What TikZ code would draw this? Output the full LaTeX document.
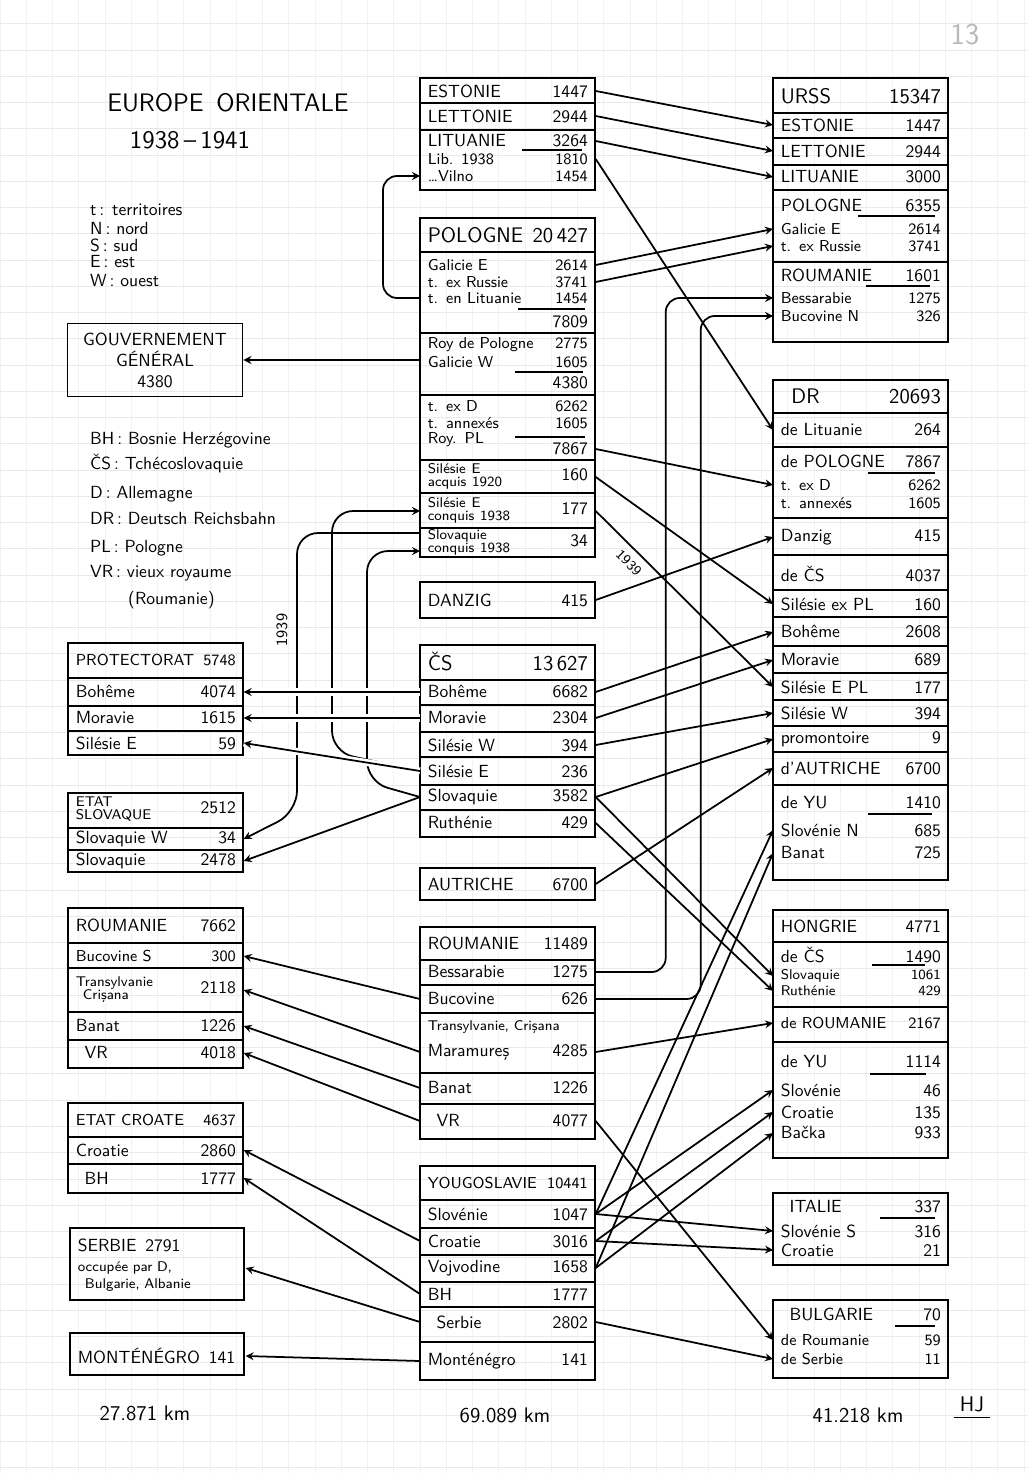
\documentclass[tikz,border=0pt]{standalone}
\usepackage{fontspec}
\usetikzlibrary{calc}

\tikzset{
  row/.style={anchor=west, text width=32mm, inner xsep=1.5mm, inner ysep=0.5pt, font=\sffamily},
  hd/.style={row, font=\sffamily},
  box/.style={draw, line width=1.1pt},
  sep/.style={line width=0.8pt},
  tot/.style={line width=0.7pt},
  arr/.style={->, line width=1pt},
  gap/.style={preaction={draw=white, line width=4pt, -}},
  legende/.style={anchor=west, font=\sffamily},
}
\newcommand{\twol}[2]{{\footnotesize\renewcommand{\arraystretch}{0.75}\begin{tabular}{@{}l@{}}#1\\#2\end{tabular}}}

\begin{document}
\begin{tikzpicture}[x=0.2mm,y=-0.2mm,>=stealth]
\useasboundingbox[fill=white] (0,0) rectangle (1028,1473);
% papier quadrille
\foreach \k in {-16,...,30} \draw[gray!10, line width=0.3pt] (420+26.25*\k,0) -- (420+26.25*\k,1473);
\foreach \k in {-26,...,30} \draw[gray!17, line width=0.3pt] (0,680+26.25*\k) -- (1028,680+26.25*\k);

% titre et legendes
\node[font=\sffamily\Large] (titre) at (228,103) {\addfontfeature{LetterSpace=22}EUROPE\enspace ORIENTALE};
\node[font=\sffamily\Large] (annees) at (190,140) {1938\,--\,1941};
\node[font=\sffamily\LARGE, text=gray!55] (page) at (965,35) {13};
\node[legende] (leg-t) at (84,210) {t\,: territoires};
\node[legende] (leg-n) at (84,228) {N\,: nord};
\node[legende] (leg-s) at (84,245) {S\,: sud};
\node[legende] (leg-e) at (84,262) {E\,: est};
\node[legende] (leg-w) at (84,280) {W\,: ouest};
\node[legende] (leg-bh) at (84,440) {BH\,: Bosnie Herzégovine};
\node[legende] (leg-cs) at (84,464) {ČS\,: Tchécoslovaquie};
\node[legende] (leg-d) at (84,494) {D\,: Allemagne};
\node[legende] (leg-dr) at (84,518) {DR\,: Deutsch Reichsbahn};
\node[legende] (leg-pl) at (84,548) {PL\,: Pologne};
\node[legende] (leg-vr) at (84,573) {VR\,: vieux royaume};
\node[legende] (leg-ro) at (122,600) {(Roumanie)};

% colonne du milieu : etats de 1938
\draw[box] (420,78) rectangle (595,190);
\foreach \y in {103,130} \draw[sep] (420,\y) -- (595,\y);
\node[hd] (ba-est) at (420,91) {ESTONIE\hfill 1447};
\node[hd] (ba-let) at (420,116) {LETTONIE\hfill 2944};
\node[hd] (ba-lit) at (420,141) {LITUANIE\hfill 3264};
\draw[tot] (522,150) -- (582,150);
\node[row, font=\sffamily\small] (ba-lib) at (420,159) {Lib. 1938\hfill 1810};
\node[row, font=\sffamily\small] (ba-vil) at (420,176) {\dots Vilno\hfill 1454};

\draw[box] (420,218) rectangle (595,557);
\foreach \y in {252,333,395,460,493,528} \draw[sep] (420,\y) -- (595,\y);
\node[hd, font=\sffamily\large] (pl-hd) at (420,235) {POLOGNE\hfill 20\,427};
\node[row, font=\sffamily\small] (pl-gal) at (420,265) {Galicie E\hfill 2614};
\node[row, font=\sffamily\small] (pl-rus) at (420,282) {t. ex Russie\hfill 3741};
\node[row, font=\sffamily\small] (pl-lit) at (420,298) {t. en Lituanie\hfill 1454};
\draw[tot] (518,309) -- (585,309);
\node[row] (pl-s1) at (420,322) {\hfill 7809};
\node[row, font=\sffamily\small] (pl-roy) at (420,345) {Roy de Pologne\hfill 2775};
\node[row, font=\sffamily\small] (pl-gaw) at (420,362) {Galicie W\hfill 1605};
\draw[tot] (515,372) -- (583,372);
\node[row] (pl-s2) at (420,383) {\hfill 4380};
\node[row, font=\sffamily\small] (pl-exd) at (420,406) {t. ex D\hfill 6262};
\node[row, font=\sffamily\small] (pl-ann) at (420,423) {t. annexés\hfill 1605};
\node[row, font=\sffamily\small] (pl-rpl) at (420,440) {Roy. PL};
\draw[tot] (515,437) -- (585,437);
\node[row] (pl-s3) at (420,449) {\hfill 7867};
\node[row] (pl-sia) at (420,477) {\twol{Silésie E}{acquis 1920}\hfill 160};
\node[row] (pl-sic) at (420,511) {\twol{Silésie E}{conquis 1938}\hfill 177};
\node[row] (pl-slq) at (420,543) {\twol{Slovaquie}{conquis 1938}\hfill 34};

\draw[box] (420,582) rectangle (595,618);
\node[hd] (da) at (420,600) {DANZIG\hfill 415};

\draw[box] (420,645) rectangle (595,837);
\foreach \y in {680,705,732,757,785,810} \draw[sep] (420,\y) -- (595,\y);
\node[hd, font=\sffamily\large] (cs-hd) at (420,662) {ČS\hfill 13\,627};
\node[row] (cs-boh) at (420,692) {Bohême\hfill 6682};
\node[row] (cs-mor) at (420,718) {Moravie\hfill 2304};
\node[row] (cs-siw) at (420,745) {Silésie W\hfill 394};
\node[row] (cs-sie) at (420,771) {Silésie E\hfill 236};
\node[row] (cs-slq) at (420,797) {Slovaquie\hfill 3582};
\node[row] (cs-rut) at (420,823) {Ruthénie\hfill 429};

\draw[box] (420,868) rectangle (595,900);
\node[hd] (au) at (420,884) {AUTRICHE\hfill 6700};

\draw[box] (420,927) rectangle (595,1139);
\foreach \y in {960,985,1013,1073,1104} \draw[sep] (420,\y) -- (595,\y);
\node[hd] (ro-hd) at (420,943) {ROUMANIE\hfill 11489};
\node[row] (ro-bes) at (420,972) {Bessarabie\hfill 1275};
\node[row] (ro-buc) at (420,999) {Bucovine\hfill 626};
\node[row, font=\sffamily\footnotesize] (ro-tra) at (420,1027) {Transylvanie, Crişana};
\node[row] (ro-mar) at (420,1052) {Maramureş\hfill 4285};
\node[row] (ro-ban) at (420,1088) {Banat\hfill 1226};
\node[row] (ro-vr) at (420,1121) {\enspace VR\hfill 4077};

\draw[box] (420,1166) rectangle (595,1380);
\foreach \y in {1200,1228,1255,1282,1307,1342} \draw[sep] (420,\y) -- (595,\y);
\node[hd, font=\sffamily\small] (yu-hd) at (420,1183) {YOUGOSLAVIE\hfill 10441};
\node[row] (yu-slo) at (420,1214) {Slovénie\hfill 1047};
\node[row] (yu-cro) at (420,1241) {Croatie\hfill 3016};
\node[row] (yu-voj) at (420,1268) {Vojvodine\hfill 1658};
\node[row] (yu-bh) at (420,1294) {BH\hfill 1777};
\node[row] (yu-ser) at (420,1322) {\enspace Serbie\hfill 2802};
\node[row] (yu-mon) at (420,1361) {Monténégro\hfill 141};

% colonne de droite : 1941
\draw[box] (773,78) rectangle (948,342);
\foreach \y in {113,138,165,190,262} \draw[sep] (773,\y) -- (948,\y);
\node[hd, font=\sffamily\large] (su-hd) at (773,96) {URSS\hfill 15347};
\node[row] (su-est) at (773,125) {ESTONIE\hfill 1447};
\node[row] (su-let) at (773,151) {LETTONIE\hfill 2944};
\node[row] (su-lit) at (773,177) {LITUANIE\hfill 3000};
\node[row] (su-pl) at (773,205) {POLOGNE\hfill 6355};
\draw[tot] (858,216) -- (935,216);
\node[row, font=\sffamily\small] (su-gal) at (773,229) {Galicie E\hfill 2614};
\node[row, font=\sffamily\small] (su-rus) at (773,246) {t. ex Russie\hfill 3741};
\node[row] (su-ro) at (773,275) {ROUMANIE\hfill 1601};
\draw[tot] (866,286) -- (930,286);
\node[row, font=\sffamily\small] (su-bes) at (773,298) {Bessarabie\hfill 1275};
\node[row, font=\sffamily\small] (su-buc) at (773,316) {Bucovine N\hfill 326};

\draw[box] (773,380) rectangle (948,880);
\foreach \y in {413,447,518,555,590,617,646,673,700,726,752,785} \draw[sep] (773,\y) -- (948,\y);
\node[hd, font=\sffamily\large] (dr-hd) at (773,396) {\enspace DR\hfill 20693};
\node[row] (dr-lit) at (773,430) {de Lituanie\hfill 264};
\node[row] (dr-pl) at (773,461) {de POLOGNE\hfill 7867};
\draw[tot] (868,473) -- (935,473);
\node[row, font=\sffamily\small] (dr-exd) at (773,485) {t. ex D\hfill 6262};
\node[row, font=\sffamily\small] (dr-ann) at (773,503) {t. annexés\hfill 1605};
\node[row] (dr-da) at (773,537) {Danzig\hfill 415};
\node[row] (dr-cs) at (773,574) {de ČS\hfill 4037};
\node[row] (dr-sip) at (773,604) {Silésie ex PL\hfill 160};
\node[row] (dr-boh) at (773,632) {Bohême\hfill 2608};
\node[row] (dr-mor) at (773,660) {Moravie\hfill 689};
\node[row] (dr-sie) at (773,687) {Silésie E PL\hfill 177};
\node[row] (dr-siw) at (773,713) {Silésie W\hfill 394};
\node[row] (dr-pro) at (773,739) {promontoire\hfill 9};
\node[row] (dr-au) at (773,768) {d'AUTRICHE\hfill 6700};
\node[row] (dr-yu) at (773,803) {de YU\hfill 1410};
\draw[tot] (868,814) -- (932,814);
\node[row] (dr-sln) at (773,830) {Slovénie N\hfill 685};
\node[row] (dr-ban) at (773,853) {Banat\hfill 725};

\draw[box] (773,910) rectangle (948,1158);
\foreach \y in {942,1007,1042} \draw[sep] (773,\y) -- (948,\y);
\node[hd] (hu-hd) at (773,926) {HONGRIE\hfill 4771};
\node[row] (hu-cs) at (773,955) {de ČS\hfill 1490};
\draw[tot] (872,965) -- (925,965);
\node[row, font=\sffamily\footnotesize] (hu-slq) at (773,976) {Slovaquie\hfill 1061};
\node[row, font=\sffamily\footnotesize] (hu-rut) at (773,991) {Ruthénie\hfill 429};
\node[row, font=\sffamily\small] (hu-ro) at (773,1023) {de ROUMANIE\hfill 2167};
\node[row] (hu-yu) at (773,1062) {de YU\hfill 1114};
\draw[tot] (870,1074) -- (926,1074);
\node[row] (hu-slo) at (773,1090) {Slovénie\hfill 46};
\node[row] (hu-cro) at (773,1112) {Croatie\hfill 135};
\node[row] (hu-bac) at (773,1133) {Bačka\hfill 933};

\draw[box] (773,1193) rectangle (948,1265);
\node[hd] (it-hd) at (773,1207) {\enspace ITALIE\hfill 337};
\draw[tot] (880,1218) -- (935,1218);
\node[row] (it-slo) at (773,1231) {Slovénie S\hfill 316};
\node[row] (it-cro) at (773,1250) {Croatie\hfill 21};

\draw[box] (773,1300) rectangle (948,1378);
\node[hd] (bg-hd) at (773,1314) {\enspace BULGARIE\hfill 70};
\draw[tot] (895,1326) -- (935,1326);
\node[row, font=\sffamily\small] (bg-ro) at (773,1340) {de Roumanie\hfill 59};
\node[row, font=\sffamily\small] (bg-ser) at (773,1359) {de Serbie\hfill 11};

% colonne de gauche : 1941
\node[box, font=\sffamily, minimum width=35mm, minimum height=14.6mm, align=center] (gg) at (155,360) {GOUVERNEMENT\\GÉNÉRAL\\4380};

\draw[box] (68,643) rectangle (243,755);
\foreach \y in {678,706,731} \draw[sep] (68,\y) -- (243,\y);
\node[hd, font=\sffamily\small] (pr-hd) at (68,660) {PROTECTORAT\hfill 5748};
\node[row] (pr-boh) at (68,692) {Bohême\hfill 4074};
\node[row] (pr-mor) at (68,718) {Moravie\hfill 1615};
\node[row] (pr-sie) at (68,743) {Silésie E\hfill 59};

\draw[box] (68,793) rectangle (243,872);
\foreach \y in {828,850} \draw[sep] (68,\y) -- (243,\y);
\node[row] (es-hd) at (68,810) {\twol{ETAT}{SLOVAQUE}\hfill 2512};
\node[row] (es-slw) at (68,839) {Slovaquie W\hfill 34};
\node[row] (es-slq) at (68,861) {Slovaquie\hfill 2478};

\draw[box] (68,908) rectangle (243,1068);
\foreach \y in {943,968,1012,1040} \draw[sep] (68,\y) -- (243,\y);
\node[hd] (rl-hd) at (68,925) {ROUMANIE\hfill 7662};
\node[row, font=\sffamily\small] (rl-buc) at (68,956) {Bucovine S\hfill 300};
\node[row] (rl-tra) at (68,990) {\twol{Transylvanie}{\enspace Crişana}\hfill 2118};
\node[row] (rl-ban) at (68,1026) {Banat\hfill 1226};
\node[row] (rl-vr) at (68,1053) {\enspace VR\hfill 4018};

\draw[box] (68,1103) rectangle (243,1193);
\foreach \y in {1137,1164} \draw[sep] (68,\y) -- (243,\y);
\node[row, font=\sffamily\small] (ec-hd) at (68,1120) {ETAT CROATE\hfill 4637};
\node[row] (ec-cro) at (68,1150) {Croatie\hfill 2860};
\node[row] (ec-bh) at (68,1178) {\enspace BH\hfill 1777};

\draw[box] (70,1228) rectangle (244,1300);
\node[hd] (sb-hd) at (70,1245) {SERBIE\enspace 2791};
\node[row, font=\sffamily\footnotesize] (sb-occ) at (70,1268) {occupée par D,};
\node[row, font=\sffamily\footnotesize] (sb-bul) at (70,1285) {\enspace Bulgarie, Albanie};

\draw[box] (70,1333) rectangle (244,1375);
\node[row] (mn) at (70,1356) {MONTÉNÉGRO\enspace 141};

% totaux
\node[font=\sffamily\large] (km-g) at (145,1413) {27.871 km};
\node[font=\sffamily\large] (km-m) at (505,1415) {69.089 km};
\node[font=\sffamily\large] (km-d) at (858,1415) {41.218 km};
\node[font=\sffamily\large] (hj) at (972,1404) {HJ};
\draw[line width=0.8pt] (hj.south west) -- (hj.south east);

% transferts vers la droite
\draw[arr] (ba-est.east) -- (su-est.west);
\draw[arr] (ba-let.east) -- (su-let.west);
\draw[arr] (ba-lit.east) -- (su-lit.west);
\draw[arr] (ba-lib.east) -- (dr-lit.west);
\draw[arr] (pl-gal.east) -- (su-gal.west);
\draw[arr] (pl-rus.east) -- (su-rus.west);
\draw[arr] (pl-s3.east) -- (dr-exd.west);
\draw[arr] (pl-sia.east) -- (dr-sip.west);
\draw[arr] (pl-sic.east) -- node[pos=0.24, sloped, below=1pt, font=\sffamily\footnotesize] (an-pl) {1939} (dr-sie.west);
\draw[arr] (da.east) -- (dr-da.west);
\draw[arr] (cs-boh.east) -- (dr-boh.west);
\draw[arr] (cs-mor.east) -- (dr-mor.west);
\draw[arr] (cs-siw.east) -- (dr-siw.west);
\draw[arr] (cs-slq.east) -- (dr-pro.west);
\draw[arr] (cs-slq.east) -- (hu-slq.west);
\draw[arr] (cs-rut.east) -- (hu-rut.west);
\draw[arr] (au.east) -- (dr-au.west);
\draw[arr, rounded corners=8] (ro-bes.east) -- ++(70,0) |- (su-bes.west);
\draw[arr, rounded corners=8] (ro-buc.east) -- ++(105,0) |- (su-buc.west);
\draw[arr] (ro-mar.east) -- (hu-ro.west);
\draw[arr] (ro-vr.east) -- (bg-ro.west);
\draw[arr] (yu-slo.east) -- (dr-sln.west);
\draw[arr] (yu-voj.east) -- (dr-ban.west);
\draw[arr] (yu-slo.east) -- (hu-slo.west);
\draw[arr] (yu-cro.east) -- (hu-cro.west);
\draw[arr] (yu-voj.east) -- (hu-bac.west);
\draw[arr] (yu-slo.east) -- (it-slo.west);
\draw[arr] (yu-cro.east) -- (it-cro.west);
\draw[arr] (yu-ser.east) -- (bg-ser.west);

% transferts vers la gauche
\draw[arr, rounded corners=8] (pl-lit.west) -- ++(-37,0) |- (ba-vil.west);
\draw[arr] (pl-roy.west |- gg.east) -- (gg.east);
\draw[arr, rounded corners=12] ($(pl-slq.west)+(0,-10)$) -| (297,812) -- (es-slw.east);
\node[rotate=90, font=\sffamily\small] (an-cs) at (282,630) {1939};
\draw[arr, rounded corners=12] (cs-sie.west) -- (332,752) |- (pl-sic.west);
\draw[arr, rounded corners=12] (cs-slq.west) -- (367,782) |- ($(pl-slq.west)+(0,8)$);
\draw[arr, gap] (cs-boh.west) -- (pr-boh.east);
\draw[arr, gap] (cs-mor.west) -- (pr-mor.east);
\draw[arr, gap] (cs-sie.west) -- (pr-sie.east);
\draw[arr] (cs-slq.west) -- (es-slq.east);
\draw[arr] (ro-buc.west) -- (rl-buc.east);
\draw[arr] (ro-mar.west) -- (rl-tra.east);
\draw[arr] (ro-ban.west) -- (rl-ban.east);
\draw[arr] (ro-vr.west) -- (rl-vr.east);
\draw[arr] (yu-cro.west) -- (ec-cro.east);
\draw[arr] (yu-bh.west) -- (ec-bh.east);
\draw[arr] (yu-ser.west) -- (sb-occ.east);
\draw[arr] (yu-mon.west) -- (mn.east);
\end{tikzpicture}
\end{document}
